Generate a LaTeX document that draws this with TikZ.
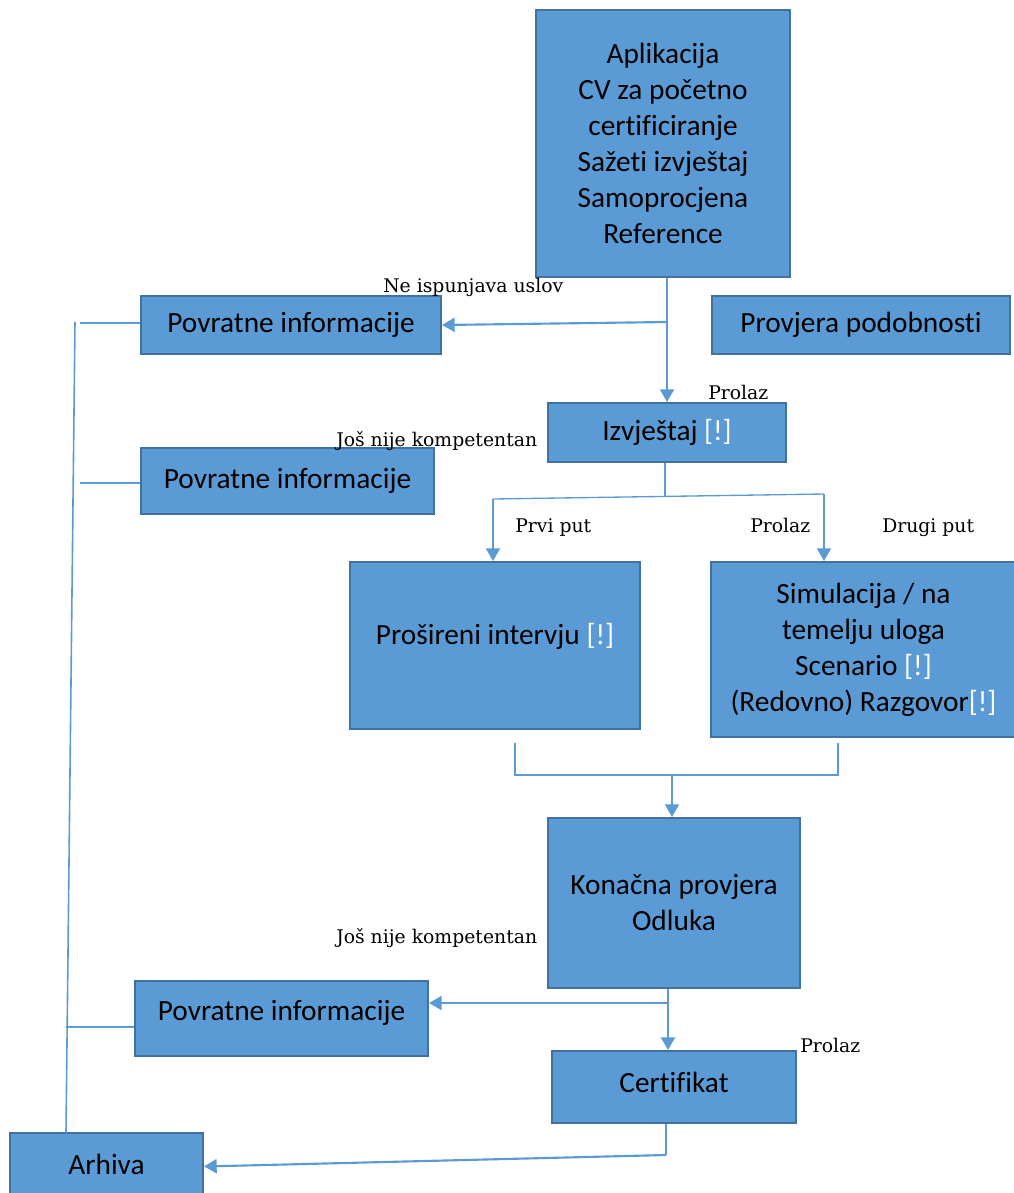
\documentclass[tikz,border=0pt]{standalone}
\usepackage{fontspec}
\newfontfamily\boxfont[Ligatures=NoCommon]{Carlito}
\newfontfamily\lblfont{DejaVu Serif}
\usetikzlibrary{arrows.meta}
\definecolor{boxfill}{HTML}{5B9BD5}
\definecolor{boxline}{HTML}{41719C}
\definecolor{connc}{HTML}{5B9BD5}
\newcommand{\warnmark}{\textcolor{white}{[!]}}
\begin{document}
\begin{tikzpicture}[x=0.75pt,y=-0.75pt,
  box/.style={draw=boxline, fill=boxfill, line width=1.5pt, font=\boxfont\fontsize{22}{27}\selectfont, align=center, inner sep=0pt, text=black},
  lbl/.style={font=\lblfont\fontsize{14.1}{16}\selectfont, inner sep=0pt, anchor=base west},
  conn/.style={draw=connc, line width=1.6pt},
  thinconn/.style={draw=connc, line width=1pt},
  arr/.style={conn, -{Triangle[length=9.5pt,width=10.5pt]}}]
\useasboundingbox (0,0) rectangle (1014,1193);
% boxes
\node[box, minimum width=190.5pt, minimum height=200.25pt] (A) at (663,143.5) {Aplikacija\\CV za početno\\certificiranje\\Sažeti izvještaj\\Samoprocjena\\Reference};
\node[box, minimum width=225pt, minimum height=43.5pt] (F1) at (291,325) {Povratne informacije};
\node[box, minimum width=223.5pt, minimum height=43.5pt] (P) at (861,325) {Provjera podobnosti};
\node[box, minimum width=178.5pt, minimum height=44.25pt] (I) at (667,432.5) {Izvještaj \warnmark};
\node[box, minimum width=219.75pt, minimum height=49.5pt] (F2) at (287.5,481) {Povratne informacije};
\node[box, minimum width=217.5pt, minimum height=125.25pt, text depth=18pt] (E) at (495,645.5) {Prošireni intervju \warnmark};
\node[box, minimum width=228.75pt, minimum height=131.25pt] (S) at (863.5,649.5) {Simulacija / na\\temelju uloga\\Scenario \warnmark\\(Redovno) Razgovor\warnmark};
\node[box, minimum width=189pt, minimum height=127.5pt] (K) at (674,903) {Konačna provjera\\Odluka};
\node[box, minimum width=219.75pt, minimum height=56.25pt, text depth=12pt] (F3) at (281.5,1018.5) {Povratne informacije};
\node[box, minimum width=183pt, minimum height=54pt, text depth=7pt] (C) at (674,1087) {Certifikat};
\node[box, minimum width=144.75pt, minimum height=50.25pt, text depth=4pt] (Ar) at (106.5,1166.5) {Arhiva};
% labels
\node[lbl] (t1) at (383,292) {Ne ispunjava uslov};
\node[lbl] (t2) at (708,399) {Prolaz};
\node[lbl] (t3) at (336,446) {Još nije kompetentan};
\node[lbl] (t4) at (515,532) {Prvi put};
\node[lbl] (t5) at (750,532) {Prolaz};
\node[lbl] (t6) at (882,532) {Drugi put};
\node[lbl] (t7) at (336,943) {Još nije kompetentan};
\node[lbl] (t8) at (800,1052) {Prolaz};
% connectors: top
\coordinate (j1) at (667,322);
\draw[arr] (A.south -| j1) -- (I.north -| j1);
\draw[arr] (j1) -- (F1.east);
% split
\coordinate (s0) at (665,497);
\coordinate (sl) at (493,499);
\coordinate (sr) at (824,494);
\draw[thinconn] (I.south -| s0) -- (s0);
\draw[thinconn] (sl) -- (sr);
\draw[arr] (sl) -- (E.north -| sl);
\draw[arr] (sr) -- (S.north -| sr);
% merge
\coordinate (m1) at (515,743);
\coordinate (m2) at (515,775);
\coordinate (m3) at (838,775);
\coordinate (m4) at (838,743);
\coordinate (m0) at (672,775);
\draw[thinconn] (m1) -- (m2) -- (m3) -- (m4);
\draw[arr] (m0) -- (K.north -| m0);
% bottom
\coordinate (j2) at (668,1003);
\draw[arr] (K.south -| j2) -- (C.north -| j2);
\draw[arr] (j2) -- (F3.east |- j2);
\coordinate (j3) at (666,1155);
\draw[thinconn] (C.south -| j3) -- (j3);
\draw[arr] (j3) -- (Ar.east);
% left archive line
\coordinate (L1) at (75,322);
\coordinate (L2) at (66,1133);
\draw[conn, line width=1.2pt] (L1) -- (L2);
\coordinate (h1) at (80,323);
\coordinate (h2) at (80,483);
\coordinate (h3) at (66,1027);
\draw[thinconn] (h1) -- (F1.west |- h1);
\draw[thinconn] (h2) -- (F2.west |- h2);
\draw[thinconn] (h3) -- (F3.west |- h3);
\end{tikzpicture}
\end{document}
